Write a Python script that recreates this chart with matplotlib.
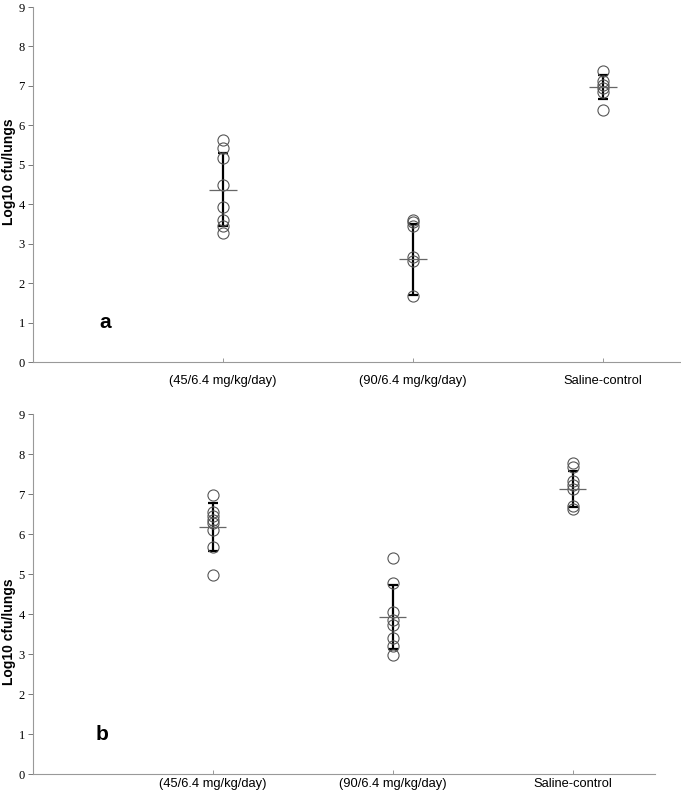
import matplotlib
matplotlib.use("Agg")
import matplotlib.pyplot as plt

categories = ["(45/6.4 mg/kg/day)", "(90/6.4 mg/kg/day)", "Saline-control"]
yticks = list(range(0, 10))

# panel a: individual log10 cfu values per group, with group mean and SD
a_points = [
    [5.63, 5.42, 5.18, 4.48, 3.92, 3.60, 3.45, 3.28],
    [3.60, 3.55, 3.45, 2.65, 2.55, 1.68],
    [7.37, 7.12, 7.02, 6.95, 6.85, 6.38],
]
a_mean = [4.37, 2.60, 6.97]
a_sd = [0.93, 0.90, 0.30]

# panel b
b_points = [
    [6.98, 6.55, 6.45, 6.35, 6.28, 6.10, 5.68, 4.97],
    [5.40, 4.78, 4.05, 3.85, 3.72, 3.40, 3.20, 2.97],
    [7.77, 7.68, 7.33, 7.22, 7.13, 6.70, 6.63],
]
b_mean = [6.18, 3.94, 7.12]
b_sd = [0.60, 0.80, 0.45]

fig = plt.figure(figsize=(6.81, 7.96), dpi=100)


def draw_panel(ax, points, means, sds, xmax, letter, xpad):
    xs = range(1, len(categories) + 1)
    for x, pts in zip(xs, points):
        ax.plot([x] * len(pts), pts, "o", ms=8, mfc="none", mec="#555555",
                mew=0.8, zorder=3, clip_on=False)
    ax.errorbar(list(xs), means, yerr=sds, fmt="none", ecolor="black",
                elinewidth=1.6, capsize=3.5, capthick=1.6, zorder=2)
    ax.hlines(means, [x - 0.075 for x in xs], [x + 0.075 for x in xs],
              color="#666666", lw=0.9, zorder=4)
    ax.set_xlim(0, xmax)
    ax.set_ylim(0, 9)
    ax.set_yticks(yticks)
    ax.set_yticklabels([str(t) for t in yticks], family="Liberation Serif",
                       fontsize=9)
    ax.set_xticks(list(xs))
    ax.set_xticklabels(categories, family="Liberation Sans", fontsize=9.3)
    ax.tick_params(axis="y", direction="out", length=3.5, width=0.7,
                   color="#777777", pad=2.5)
    ax.tick_params(axis="x", direction="in", length=3, width=0.7,
                   color="#999999", pad=xpad)
    for s in ("top", "right"):
        ax.spines[s].set_visible(False)
    for s in ("left", "bottom"):
        ax.spines[s].set_color("#999999")
        ax.spines[s].set_linewidth(0.8)
    ax.text(0.35, 1.0, letter, fontsize=15, fontweight="bold",
            family="Liberation Sans", va="center")


ax_a = fig.add_axes([0.0485, 0.5452, 0.9515, 0.446])
draw_panel(ax_a, a_points, a_mean, a_sd, 3.41, "a", 9)

ax_b = fig.add_axes([0.0485, 0.0276, 0.914, 0.452])
draw_panel(ax_b, b_points, b_mean, b_sd, 3.46, "b", 3)

fig.text(0.0135, 1 - 172 / 796, "Log10 cfu/lungs", rotation=90, fontsize=10,
         fontweight="bold", family="Liberation Sans", ha="center", va="center")
fig.text(0.0135, 1 - 632 / 796, "Log10 cfu/lungs", rotation=90, fontsize=10,
         fontweight="bold", family="Liberation Sans", ha="center", va="center")

fig.savefig("out.png", dpi=100, facecolor="white")
